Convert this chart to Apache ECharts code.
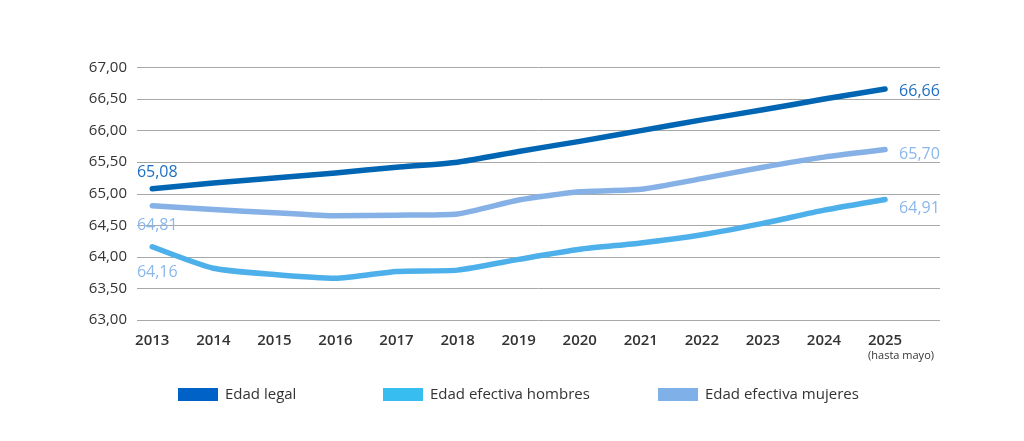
<!DOCTYPE html>
<html lang="es">
<head>
    <meta charset="UTF-8">
    <title>Edad de jubilación</title>
    <script src="https://cdn.jsdelivr.net/npm/echarts@6/dist/echarts.min.js"></script>
    <style>
        html, body { margin: 0; padding: 0; background: #fff; }
        #chart { width: 1024px; height: 441px; }
    </style>
</head>
<body>
    <div id="chart"></div>
    <script>
        // datos
        var years = [2013, 2014, 2015, 2016, 2017, 2018, 2019, 2020, 2021, 2022, 2023, 2024, 2025];
        var legalAge = [65.08, 65.17, 65.25, 65.33, 65.42, 65.50, 65.67, 65.83, 66.00, 66.17, 66.33, 66.50, 66.66];
        var menAge = [64.16, 63.82, 63.72, 63.66, 63.77, 63.79, 63.96, 64.12, 64.22, 64.35, 64.53, 64.74, 64.91];
        var womenAge = [64.81, 64.75, 64.70, 64.65, 64.66, 64.68, 64.90, 65.03, 65.07, 65.24, 65.42, 65.58, 65.70];
        var seriesNames = ['Edad legal', 'Edad efectiva hombres', 'Edad efectiva mujeres'];
        var lastYearNote = '(hasta mayo)';

        var font = "'Open Sans', 'Noto Sans', sans-serif";
        var lineColors = ['#0066b3', '#4db0eb', '#86b1e6'];
        var legendColors = ['#0062c6', '#38bdf0', '#80b0e8'];
        var labelColors = ['#1f6fc0', '#8bb7ea', '#8bb7ea'];

        function fmt(v) {
            return v.toFixed(2).replace('.', ',');
        }

        // etiqueta en el primer y ultimo punto de cada serie
        function buildData(values, idx, first) {
            return values.map(function(v, i) {
                var item = { value: [years[i], v] };
                if (i === 0) {
                    item.label = {
                        show: true,
                        position: first.position,
                        distance: first.distance,
                        offset: [5, 0],
                        color: labelColors[idx]
                    };
                } else if (i === values.length - 1) {
                    item.label = {
                        show: true,
                        position: 'right',
                        distance: 14,
                        offset: [0, first.endShift],
                        color: labelColors[idx]
                    };
                }
                return item;
            });
        }

        function lineSeries(name, values, idx, first) {
            return {
                name: name,
                type: 'line',
                smooth: 0.2,
                symbol: 'circle',
                symbolSize: 0.1,
                showSymbol: true,
                lineStyle: { width: 5.5, color: lineColors[idx], cap: 'round', join: 'round' },
                itemStyle: { color: lineColors[idx] },
                label: {
                    show: false,
                    fontFamily: font,
                    fontSize: 16,
                    formatter: function(p) { return fmt(p.value[1]); }
                },
                data: buildData(values, idx, first)
            };
        }

        function legendFor(idx, left) {
            return {
                left: left,
                top: 387,
                padding: 0,
                itemWidth: 40,
                itemHeight: 13,
                icon: 'rect',
                selectedMode: false,
                textStyle: { fontFamily: font, fontSize: 15, color: '#333', padding: [0, 0, 0, 2] },
                data: [{ name: seriesNames[idx], itemStyle: { color: legendColors[idx] } }]
            };
        }

        var xRange = { min: 2012.75, max: 2025.9 };

        var chart = echarts.init(document.getElementById('chart'));
        chart.setOption({
            animation: false,
            backgroundColor: '#fff',
            textStyle: { fontFamily: font },
            grid: { left: 137, right: 84, top: 67.5, bottom: 121, containLabel: false },
            legend: [legendFor(0, 178), legendFor(1, 383), legendFor(2, 658)],
            xAxis: [{
                type: 'value',
                min: xRange.min,
                max: xRange.max,
                axisLine: { show: false },
                axisTick: { show: false },
                splitLine: { show: false },
                axisLabel: {
                    customValues: years,
                    showMinLabel: true,
                    showMaxLabel: true,
                    margin: 12,
                    fontFamily: font,
                    fontSize: 15,
                    fontWeight: 600,
                    color: '#333',
                    lineHeight: 18,
                    formatter: function(v) { return String(v); }
                }
            }, {
                // nota bajo el ultimo año
                type: 'value',
                position: 'bottom',
                min: xRange.min,
                max: xRange.max,
                axisLine: { show: false },
                axisTick: { show: false },
                splitLine: { show: false },
                axisLabel: {
                    customValues: [years[years.length - 1]],
                    showMinLabel: true,
                    showMaxLabel: true,
                    margin: 30,
                    formatter: function() { return '{b|' + lastYearNote + '}'; },
                    rich: {
                        b: { fontFamily: font, fontSize: 11, color: '#333', lineHeight: 12, padding: [0, 0, 0, 32] }
                    }
                }
            }],
            yAxis: {
                type: 'value',
                min: 63,
                max: 67,
                interval: 0.5,
                axisLine: { show: false },
                axisTick: { show: false },
                splitLine: { lineStyle: { color: '#a8a8a8', width: 1 } },
                axisLabel: {
                    margin: 10,
                    fontFamily: font,
                    fontSize: 15,
                    color: '#333',
                    formatter: fmt
                }
            },
            series: [
                lineSeries(seriesNames[0], legalAge, 0, { position: 'top', distance: 8, endShift: 2 }),
                lineSeries(seriesNames[1], menAge, 1, { position: 'bottom', distance: 18, endShift: 9 }),
                lineSeries(seriesNames[2], womenAge, 2, { position: 'bottom', distance: 12, endShift: 5 })
            ]
        });
    </script>
</body>
</html>
